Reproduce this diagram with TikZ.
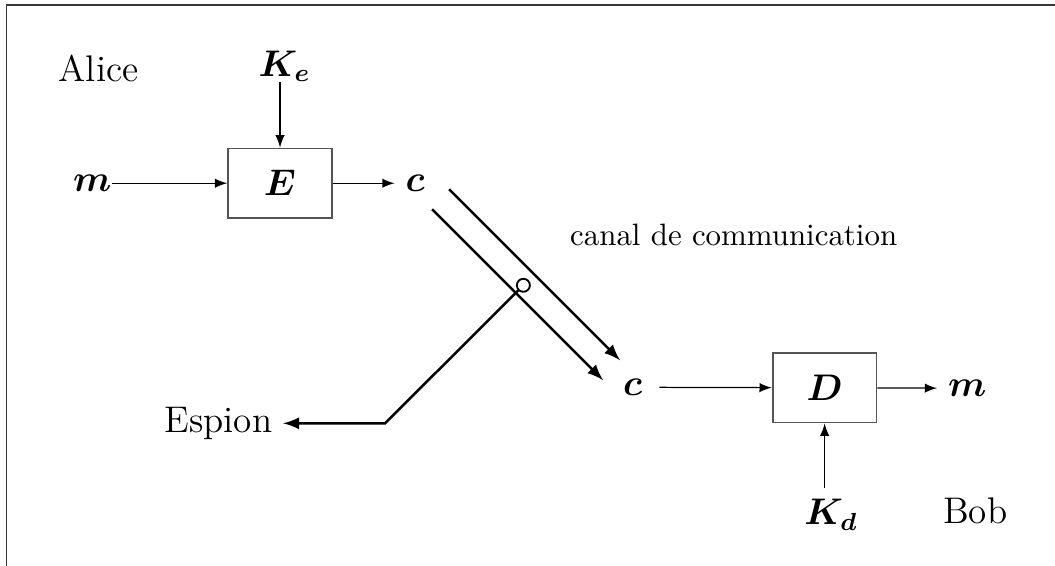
\documentclass[tikz,border=0pt]{standalone}
\usepackage{amsmath,bm}
\usepackage{tkz-euclide}
\usetikzlibrary{arrows,calc}
\definecolor{BoxClr}{RGB}{85,85,85}
\definecolor{FrameClr}{RGB}{55,55,55}

\tikzset{
 blockbox/.style={draw=BoxClr,line width=0.6pt,font=\large,minimum width=1.18cm,minimum height=0.79cm},
 lbl/.style={font=\large},
 fleche/.style={-latex,line width=0.4pt},
 canal/.style={-latex,line width=0.8pt}
}

\begin{document}
\begin{tikzpicture}
\useasboundingbox (0,0) rectangle (12,6.43);
\draw[FrameClr,line width=0.6pt] (0.074,-1) rectangle (13,6.377);

\tkzDefPoints{3.185/4.346/pE,9.380/2.019/pD,4.721/4.346/pcA,7.196/2.025/pcB}
\tkzDefPoints{5.108/4.278/hA,7.053/2.332/hB,4.915/4.050/bA,6.860/2.105/bB}
\tkzDefPoints{5.953/3.185/pT,4.380/1.615/coin}

% Alice
\node[lbl,anchor=base] (alice) at (1.121,5.506) {Alice};
\node[blockbox] (E) at (pE) {$\bm{E}$};
\node[lbl,anchor=east,inner sep=0pt] (mA) at (1.274,4.346) {$\bm{m}$};
\node[lbl,anchor=south,inner sep=0pt] (Ke) at (3.237,5.495) {$\bm{K_e}$};
\node[lbl] (cA) at (pcA) {$\bm{c}$};

\draw[fleche] (mA) -- (E);
\draw[fleche] (Ke.south -| E.north) -- (E.north);
\draw[fleche] (E) -- (cA);

% canal
\draw[canal] (hA) -- (hB);
\draw[canal] (bA) -- (bB);
\node[anchor=base] (canal) at (8.345,3.640) {canal de communication};

% espion
\node[circle,draw,line width=0.6pt,minimum size=0.148cm,inner sep=0pt] (tap) at (pT) {};
\node[lbl,anchor=east] (espion) at (3.22,1.615) {Espion};
\draw[canal] (tap.south west) -- (coin) -- (espion.east);

% Bob
\node[lbl] (cB) at (pcB) {$\bm{c}$};
\node[blockbox] (D) at (pD) {$\bm{D}$};
\node[lbl] (mB) at (11.001,2.014) {$\bm{m}$};
\node[lbl,anchor=north] (Kd) at (9.454,0.876) {$\bm{K_d}$};
\node[lbl,anchor=base] (bob) at (11.092,0.478) {Bob};

\draw[fleche,shorten <=2pt] (cB) -- (D);
\draw[fleche] (D) -- (mB);
\draw[fleche] (Kd.north -| D.south) -- (D.south);

\end{tikzpicture}
\end{document}
